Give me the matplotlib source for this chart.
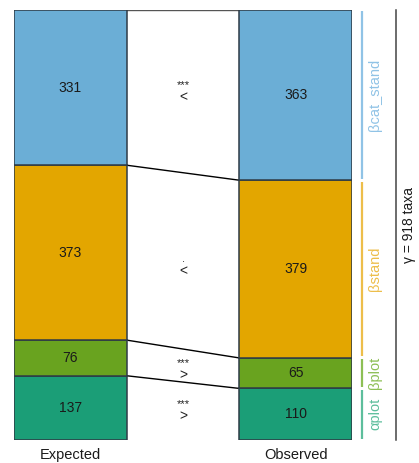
import matplotlib
matplotlib.use("Agg")
import numpy as np
import matplotlib.pyplot as plt

plt.rcParams['font.family'] = ['Liberation Sans', 'DejaVu Sans']

# data, bottom -> top
groups = ["Expected", "Observed"]
components = ["αplot", "βplot", "βstand", "βcat_stand"]
expected = [137, 76, 373, 331]
observed = [110, 65, 379, 363]
stars = ["***", "***", ".", "***"]
signs = [">", ">", "<", "<"]
gamma_label = "γ = 918 taxa"

fills = ["#1B9E77", "#69A31F", "#E3A600", "#6BAED6"]
light = ["#5DBE9C", "#8DBF55", "#EDBE4A", "#90C3E6"]
edge = "#2E3B46"

fig = plt.figure(figsize=(4.19, 4.63), dpi=100)
W, H = 419, 463
ax = fig.add_axes([14 / W, 23 / H, 338 / W, 430 / H])
ax.set_xlim(-0.25, 1.25)
total = sum(expected)
ax.set_ylim(0, total)
ax.axis('off')

bw = 0.5
exp_bot = np.concatenate([[0], np.cumsum(expected)[:-1]])
obs_bot = np.concatenate([[0], np.cumsum(observed)[:-1]])

for i in range(len(components)):
    ax.bar(0, expected[i], bottom=exp_bot[i], width=bw, color=fills[i],
           edgecolor=edge, linewidth=1.1, zorder=3)
    ax.bar(1, observed[i], bottom=obs_bot[i], width=bw, color=fills[i],
           edgecolor=edge, linewidth=1.1, zorder=3)
    ax.text(0, exp_bot[i] + expected[i] / 2, str(expected[i]), ha='center',
            va='center', fontsize=10, color='#1a1a1a', zorder=4)
    ax.text(1, obs_bot[i] + observed[i] / 2, str(observed[i]), ha='center',
            va='center', fontsize=10, color='#1a1a1a', zorder=4)

# connectors between the two bars
exp_cum = np.cumsum(expected)
obs_cum = np.cumsum(observed)
for k in range(len(components) - 1):
    ax.plot([bw / 2, 1 - bw / 2], [exp_cum[k], obs_cum[k]], color='black',
            lw=1.0, zorder=2)
ax.plot([bw / 2, 1 - bw / 2], [total, total], color='#555555', lw=1.0, zorder=2)

# significance marks
px = total / 430.0
for i in range(len(components)):
    yc = obs_bot[i] + observed[i] / 2 - 2 * px
    ax.text(0.5, yc, signs[i], ha='center', va='center', fontsize=10,
            color='#222222')
    ax.text(0.5, yc + 12 * px, stars[i], ha='center', va='center',
            fontsize=8, color='#222222')

# component brackets on the right
xs = lambda p: -0.25 + (p - 14) / (338 / 1.5)
gap = 1.5 * px
for i in range(len(components)):
    y0 = obs_bot[i] + gap
    y1 = obs_bot[i] + observed[i] - gap
    ax.plot([xs(362), xs(362)], [y0, y1], color=light[i], lw=1.6,
            clip_on=False, solid_capstyle='butt')
    ax.text(xs(375), (y0 + y1) / 2, components[i], rotation=90, ha='center',
            va='center', fontsize=10.5, color=light[i], clip_on=False)

ax.plot([xs(396), xs(396)], [0, total], color='#444444', lw=1.1, clip_on=False)
ax.text(xs(409), total / 2, gamma_label, rotation=90, ha='center',
        va='center', fontsize=10, color='#1a1a1a', clip_on=False)

for j, g in enumerate(groups):
    ax.text(j, -15 * px, g, ha='center', va='center', fontsize=10.5,
            color='#1a1a1a', clip_on=False)

fig.savefig("out.png", dpi=100)
